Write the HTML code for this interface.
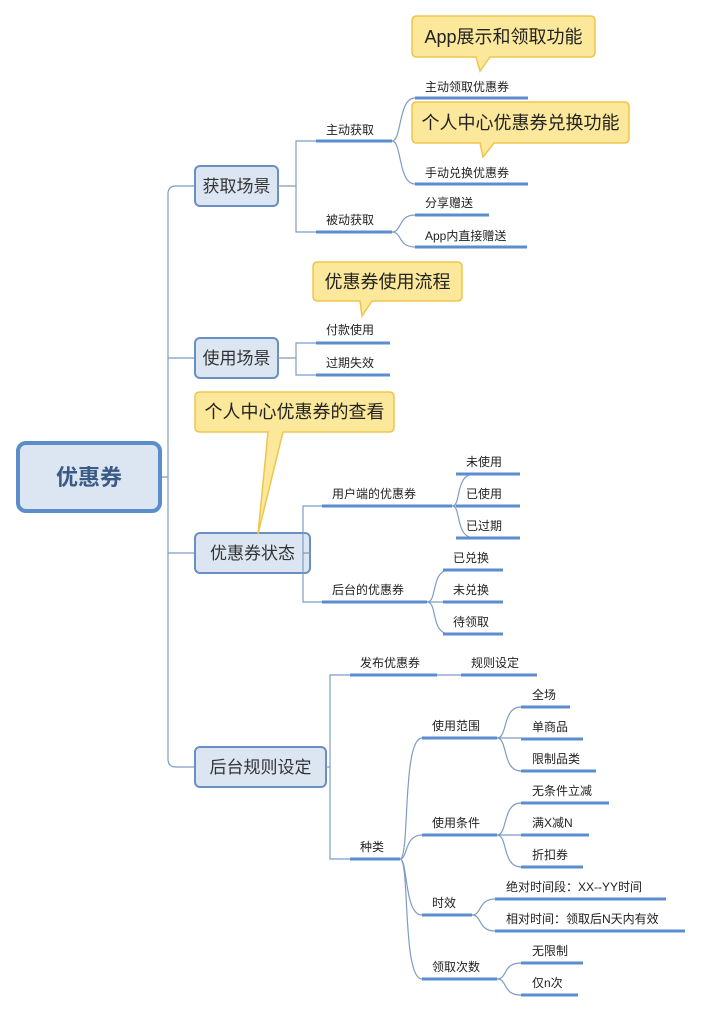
<!DOCTYPE html>
<html><head><meta charset="utf-8"><style>
html,body{margin:0;padding:0;background:#fff;}
svg{display:block;}
text{font-family:"Liberation Sans","Noto Sans CJK SC",sans-serif;fill:#222;}
.t{font-size:12px;}
.l1{font-size:17px;fill:#333;}
.c{font-size:18px;fill:#222;}
.u{stroke:#5b8dd0;stroke-width:3;fill:none;}
.k{stroke:#7e9cc4;stroke-width:1.2;fill:none;}
.box{fill:#dce6f2;stroke:#6b8fc2;stroke-width:2;}
.call{fill:#fbe89a;stroke:#efc54b;stroke-width:1.5;}
</style></head><body>
<svg width="703" height="1012" viewBox="0 0 703 1012" xmlns="http://www.w3.org/2000/svg">
<path class="k" d="M160 477 H168 M176 186 Q168 186 168 194 V759 Q168 767 176 767 H195 M176 186 H195 M168 358 H195 M168 553 H195"/>
<rect x="18" y="443" width="142" height="68" rx="8" fill="#dce6f2" stroke="#5b8dcb" stroke-width="4"/>
<text x="89" y="485" text-anchor="middle" style="font-size:22px;font-weight:bold;fill:#3b5a85">优惠券</text>

<rect class="box" x="195" y="166" width="83" height="40" rx="5"/>
<text class="l1" x="236.5" y="192" text-anchor="middle">获取场景</text>
<path class="k" d="M278 186 H296 M316 141 H296 V232 H316"/>
<line class="u" x1="316" y1="141" x2="392" y2="141"/>
<text class="t" x="326" y="134">主动获取</text>
<line class="u" x1="316" y1="232" x2="392" y2="232"/>
<text class="t" x="326" y="224">被动获取</text>
<path class="k" d="M392 141 C402 141 398 98 415 98 M392 141 C402 141 398 184 415 184"/>
<line class="u" x1="415" y1="98" x2="528" y2="98"/>
<text class="t" x="425" y="91">主动领取优惠券</text>
<line class="u" x1="415" y1="184" x2="528" y2="184"/>
<text class="t" x="425" y="177">手动兑换优惠券</text>
<path class="k" d="M392 232 C402 232 398 215 415 215 M392 232 C402 232 398 247 415 247"/>
<line class="u" x1="415" y1="215" x2="489" y2="215"/>
<text class="t" x="425" y="207">分享赠送</text>
<line class="u" x1="415" y1="247" x2="527" y2="247"/>
<text class="t" x="425" y="240">App内直接赠送</text>
<path class="call" d="M417 16 H590 Q595 16 595 21 V52 Q595 57 590 57 H490 L480 71 L476 57 H417 Q412 57 412 52 V21 Q412 16 417 16 Z"/>
<text class="c" x="503.5" y="43" text-anchor="middle">App展示和领取功能</text>
<path class="call" d="M417 102 H624 Q629 102 629 107 V138 Q629 143 624 143 H494 L483 157 L480 143 H417 Q412 143 412 138 V107 Q412 102 417 102 Z"/>
<text class="c" x="520.5" y="129" text-anchor="middle">个人中心优惠券兑换功能</text>

<rect class="box" x="195" y="338" width="83" height="40" rx="5"/>
<text class="l1" x="236.5" y="364" text-anchor="middle">使用场景</text>
<path class="k" d="M278 358 H296 M316 343 H296 V375 H316"/>
<line class="u" x1="316" y1="343" x2="390" y2="343"/>
<text class="t" x="326" y="334">付款使用</text>
<line class="u" x1="316" y1="375" x2="390" y2="375"/>
<text class="t" x="326" y="367">过期失效</text>
<path class="call" d="M318 262 H457 Q462 262 462 267 V296 Q462 301 457 301 H372 L362 316 L360 301 H318 Q313 301 313 296 V267 Q313 262 318 262 Z"/>
<text class="c" x="387.5" y="288" text-anchor="middle">优惠券使用流程</text>

<rect class="box" x="195" y="533" width="115" height="40" rx="5"/>
<text class="l1" x="252.5" y="559" text-anchor="middle">优惠券状态</text>
<path class="call" d="M200 392 H389 Q394 392 394 397 V427 Q394 432 389 432 H283 L258 534 L268 432 H200 Q195 432 195 427 V397 Q195 392 200 392 Z"/>
<text class="c" x="294.5" y="418" text-anchor="middle">个人中心优惠券的查看</text>
<path class="k" d="M310 553 H303 M322 506 H303 V602 H322"/>
<line class="u" x1="322" y1="506" x2="452" y2="506"/>
<text class="t" x="332" y="498">用户端的优惠券</text>
<line class="u" x1="322" y1="602" x2="427" y2="602"/>
<text class="t" x="332" y="594">后台的优惠券</text>
<path class="k" d="M452 506 C462 506 454 474 475 474 M452 506 H475 M452 506 C462 506 454 538 475 538"/>
<line class="u" x1="456" y1="474" x2="520" y2="474"/>
<text class="t" x="466" y="466">未使用</text>
<line class="u" x1="456" y1="506" x2="520" y2="506"/>
<text class="t" x="466" y="498">已使用</text>
<line class="u" x1="456" y1="538" x2="520" y2="538"/>
<text class="t" x="466" y="530">已过期</text>
<path class="k" d="M427 602 C438 602 430 570 450 570 M427 602 H450 M427 602 C438 602 430 634 450 634"/>
<line class="u" x1="443" y1="570" x2="503" y2="570"/>
<text class="t" x="453" y="562">已兑换</text>
<line class="u" x1="443" y1="602" x2="503" y2="602"/>
<text class="t" x="453" y="594">未兑换</text>
<line class="u" x1="443" y1="634" x2="503" y2="634"/>
<text class="t" x="453" y="626">待领取</text>

<rect class="box" x="195" y="747" width="131" height="40" rx="5"/>
<text class="l1" x="260.5" y="773" text-anchor="middle">后台规则设定</text>
<path class="k" d="M326 767 H330 M350 675 H330 V859 H350"/>
<line class="u" x1="350" y1="675" x2="437" y2="675"/>
<text class="t" x="360" y="667">发布优惠券</text>
<path class="k" d="M437 675 H461"/>
<line class="u" x1="461" y1="675" x2="537" y2="675"/>
<text class="t" x="471" y="667">规则设定</text>
<line class="u" x1="350" y1="859" x2="400" y2="859"/>
<text class="t" x="360" y="851">种类</text>
<path class="k" d="M400 859 C410 859 402 738 422 738 M400 859 C408 859 404 835 422 835 M400 859 C408 859 404 915 422 915 M400 859 C410 859 402 979 422 979"/>
<line class="u" x1="422" y1="738" x2="497" y2="738"/>
<text class="t" x="432" y="730">使用范围</text>
<line class="u" x1="422" y1="835" x2="497" y2="835"/>
<text class="t" x="432" y="827">使用条件</text>
<line class="u" x1="422" y1="915" x2="472" y2="915"/>
<text class="t" x="432" y="907">时效</text>
<line class="u" x1="422" y1="979" x2="497" y2="979"/>
<text class="t" x="432" y="971">领取次数</text>
<path class="k" d="M497 738 C508 738 502 707 521 707 M497 738 H521 M497 738 C508 738 502 771 521 771"/>
<line class="u" x1="521" y1="707" x2="570" y2="707"/>
<text class="t" x="532" y="699">全场</text>
<line class="u" x1="521" y1="739" x2="583" y2="739"/>
<text class="t" x="532" y="731">单商品</text>
<line class="u" x1="521" y1="771" x2="596" y2="771"/>
<text class="t" x="532" y="763">限制品类</text>
<path class="k" d="M497 835 C508 835 502 803 521 803 M497 835 H521 M497 835 C508 835 502 867 521 867"/>
<line class="u" x1="521" y1="803" x2="609" y2="803"/>
<text class="t" x="532" y="795">无条件立减</text>
<line class="u" x1="521" y1="835" x2="589" y2="835"/>
<text class="t" x="532" y="827">满X减N</text>
<line class="u" x1="521" y1="867" x2="583" y2="867"/>
<text class="t" x="532" y="859">折扣券</text>
<path class="k" d="M472 915 C482 915 478 899 495 899 M472 915 C482 915 478 931 495 931"/>
<line class="u" x1="495" y1="899" x2="666" y2="899"/>
<text class="t" x="506" y="891">绝对时间段：XX--YY时间</text>
<line class="u" x1="495" y1="931" x2="685" y2="931"/>
<text class="t" x="506" y="923">相对时间：领取后N天内有效</text>
<path class="k" d="M497 979 C508 979 502 963 521 963 M497 979 C508 979 502 995 521 995"/>
<line class="u" x1="521" y1="963" x2="583" y2="963"/>
<text class="t" x="532" y="955">无限制</text>
<line class="u" x1="521" y1="995" x2="578" y2="995"/>
<text class="t" x="532" y="987">仅n次</text>
</svg>
</body></html>
